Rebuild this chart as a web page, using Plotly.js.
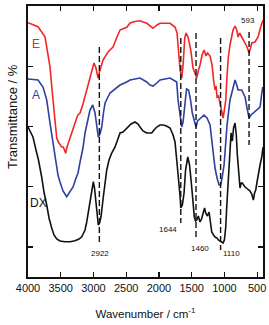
<!DOCTYPE html>
<html>
<head>
<meta charset="utf-8">
<script src="https://cdn.plot.ly/plotly-3.0.1.min.js"></script>
<style>html,body{margin:0;padding:0;background:#fff;}#chart{width:269px;height:325px;}</style>
</head>
<body>
<div id="chart"></div>
<script>
// Wavenumber (cm^-1) and stacked transmittance (arbitrary offset units)
const wnE = [4000,3847,3740,3664,3618,3587,3561,3537,3485,3461,3445,3424,3409,3384,3358,3312,3251,3236,3205,3160,3103,3053,3022,2992,2961,2930,2900,2854,2778,2701,2640,2594,2487,2441,2365,2289,2186,2125,2090,2029,1983,1830,1754,1723,1700,1677,1651,1631,1605,1585,1555,1514,1479,1448,1422,1395,1372,1341,1311,1280,1258,1219,1188,1165,1143,1127,1112,1089,1066,1040,1020,1000,979,959,939,914,887,868,837,811,791,768,735,715,684,654,623,600,582,532,486,445,409];
const tE  = [101.7,100.1,96.1,84.1,70.8,60.8,55.6,54,52,52,50.8,49.5,51.6,53.6,56,60,64,64.8,65.6,69.2,74.8,78.8,82.8,85.6,83.6,79.6,82.8,86.8,90,92,96,98.8,100,101.6,102.2,102.5,101.5,100,99.5,100.8,101.5,101.5,100,97.6,90.8,82.8,79.6,84.8,95.6,97.6,96,90.8,83.6,81.2,79.6,82.8,84.8,88.8,90.8,88.4,89.6,88.4,84.8,78.8,74.8,76.4,72,72.4,69.2,65.6,63.6,66.8,70.8,80.8,88,92.8,96.4,98.8,100.4,98.8,96,97.6,96,94.8,93.6,92,89.6,91.6,93.6,94,96,100,102.8];

const wnA = [4000,3847,3771,3714,3664,3618,3587,3542,3511,3465,3409,3358,3312,3266,3236,3205,3160,3129,3083,3053,3011,2976,2945,2926,2900,2874,2847,2823,2747,2645,2594,2492,2441,2289,2186,2136,2090,2033,1983,1830,1728,1708,1677,1651,1631,1601,1578,1547,1517,1490,1456,1433,1410,1361,1311,1265,1219,1184,1165,1143,1112,1081,1058,1035,1005,979,959,914,868,837,811,791,735,684,654,623,593,562,506,455,432,414];
const tA  = [79.2,78.8,76,70.8,61.6,53.6,46.8,40.8,38,34.4,32.1,34,36,39.6,41.6,46,51.6,57.6,63.6,66.8,68.8,65.6,59.6,56,57.2,60,65.6,69.6,73.6,76,76.8,78,78.8,79.6,78,76.8,76.4,77.6,78.8,79.6,78,70.8,63.6,60,62,70.8,75.2,74.8,70.8,65.6,62.4,60,62.4,63.6,64.8,63.6,60.8,52.8,47.6,43.6,39.6,36.8,36.8,39.6,44.8,52.8,60.8,70.8,76,78.8,76.8,74.8,74.8,72,67.6,63.6,64.8,65.6,66.8,68,72.8,76];

const wnDX = [4000,3924,3878,3840,3791,3756,3714,3679,3638,3603,3561,3511,3435,3358,3282,3221,3179,3152,3129,3103,3079,3053,3027,3002,2984,2966,2945,2926,2907,2885,2849,2823,2797,2762,2721,2670,2632,2594,2548,2472,2426,2365,2319,2289,2243,2186,2110,2075,2033,1983,1937,1884,1830,1784,1754,1728,1708,1693,1677,1666,1654,1642,1616,1593,1559,1532,1502,1479,1459,1441,1422,1398,1372,1349,1321,1303,1285,1260,1234,1219,1193,1165,1143,1112,1092,1066,1040,1020,1000,979,964,944,929,914,898,878,860,837,818,802,786,771,761,743,726,684,634,608,582,557,539,521,501,481,455,429,409];
const tDX  = [60,56,50.8,46.8,40,34,28.8,23.6,19.6,16.8,15.2,14.4,14.1,14.1,14.5,15.2,16.1,17.6,18.8,22,25.6,30.8,34.8,38.1,35.6,30.8,24.8,20.8,21.6,24.1,32.1,38,42.8,46.8,49.6,52,54.8,57.6,58,60,61.2,62,61.2,60,58.4,57.6,57.6,58.8,60,60.8,60.8,60.4,59.6,56.8,54,46.8,42,37.6,32.4,27.6,28,28.8,33.6,42.8,48,44.8,36.8,30.8,24,22.4,22.8,24.4,22,23.2,26.8,27.6,25.6,24.4,26,22.8,18,16.8,16,15.6,14.8,14.4,14,13.6,14.8,20,28,36.8,43.6,54.8,57.6,54.4,59.6,61.6,56.8,48.8,43.6,36.8,35.6,37.6,37.6,36,34.8,34.4,33.2,30.8,33.6,34.8,38,41.6,44.8,48,52];

// Marked bands: label text, dashed-line position, dashed-line span, label position
const bandLabels = ["2922","1644","1460","1110","593"];
const bandWn     = [2910,1666,1433,1058,623];
const bandTop    = [92,95.6,97.6,95.6,98];
const bandBottom = [12.8,21.6,14.8,10.8,52.8];
const labelWn    = [2900,1861,1372,898,638];
const labelT     = [9.6,19.2,11.6,9.6,102.8];

const seriesNames = ["E","A","DX"];
const seriesLabelWn = [3878,3878,3847];
const seriesLabelT  = [93.2,72.8,29.6];
const seriesColors  = ["#f52525","#2e3f9e","#111111"];

const xTicks = [4000,3500,3000,2500,2000,1500,1000,500];

const traces = [
  {x: wnE, y: tE, mode: "lines", line: {color: seriesColors[0], width: 1.6}, name: "E"},
  {x: wnA, y: tA, mode: "lines", line: {color: seriesColors[1], width: 1.6}, name: "A"},
  {x: wnDX, y: tDX, mode: "lines", line: {color: seriesColors[2], width: 1.6}, name: "DX"}
];
bandWn.forEach((w, i) => {
  traces.push({x: [w, w], y: [bandTop[i], bandBottom[i]], mode: "lines",
    line: {color: "#111", width: 1.4, dash: "6px,3px"}, showlegend: false, hoverinfo: "skip"});
});

const annotations = [];
bandLabels.forEach((t, i) => {
  annotations.push({x: labelWn[i], y: labelT[i], xref: "x", yref: "y", text: t, showarrow: false,
    font: {family: "Liberation Sans, Arial, sans-serif", size: 8, color: "#111"}});
});
seriesNames.forEach((t, i) => {
  annotations.push({x: seriesLabelWn[i], y: seriesLabelT[i], xref: "x", yref: "y", text: t, showarrow: false,
    font: {family: "Liberation Sans, Arial, sans-serif", size: 12, color: seriesColors[i]}});
});
const plotH = 325 - 6 - 48, plotW = 269 - 28 - 6;
annotations.push({x: (12 - 28) / plotW, y: (277 - 117) / plotH, xref: "paper", yref: "paper",
  xanchor: "center", yanchor: "middle", text: "Transmittance / %", showarrow: false,
  textangle: -90, font: {family: "Liberation Sans, Arial, sans-serif", size: 13, color: "#111"}});

const layout = {
  width: 269, height: 325,
  margin: {l: 28, r: 6, t: 6, b: 48},
  paper_bgcolor: "#fff", plot_bgcolor: "#fff",
  showlegend: false,
  font: {family: "Liberation Sans, Arial, sans-serif", size: 11, color: "#111"},
  xaxis: {
    range: [4000, 410], tickvals: xTicks, ticktext: xTicks.map(String),
    ticks: "inside", ticklen: 5, tickwidth: 1.2, tickcolor: "#111",
    showline: true, linewidth: 1.8, linecolor: "#111", mirror: "allticks",
    showgrid: false, zeroline: false,
    tickfont: {size: 11, color: "#111"},
    title: {text: "Wavenumber / cm<sup>-1</sup>", font: {size: 11.5, color: "#111"}, standoff: 17}
  },
  yaxis: {
    range: [0, 108.4], tick0: 12, dtick: 24.1,
    ticks: "inside", ticklen: 5, tickwidth: 1.2, tickcolor: "#111",
    showticklabels: false,
    showline: true, linewidth: 1.8, linecolor: "#111", mirror: "allticks",
    showgrid: false, zeroline: false
  },
  annotations: annotations
};

Plotly.newPlot("chart", traces, layout, {displayModeBar: false, staticPlot: true});
</script>
</body>
</html>
